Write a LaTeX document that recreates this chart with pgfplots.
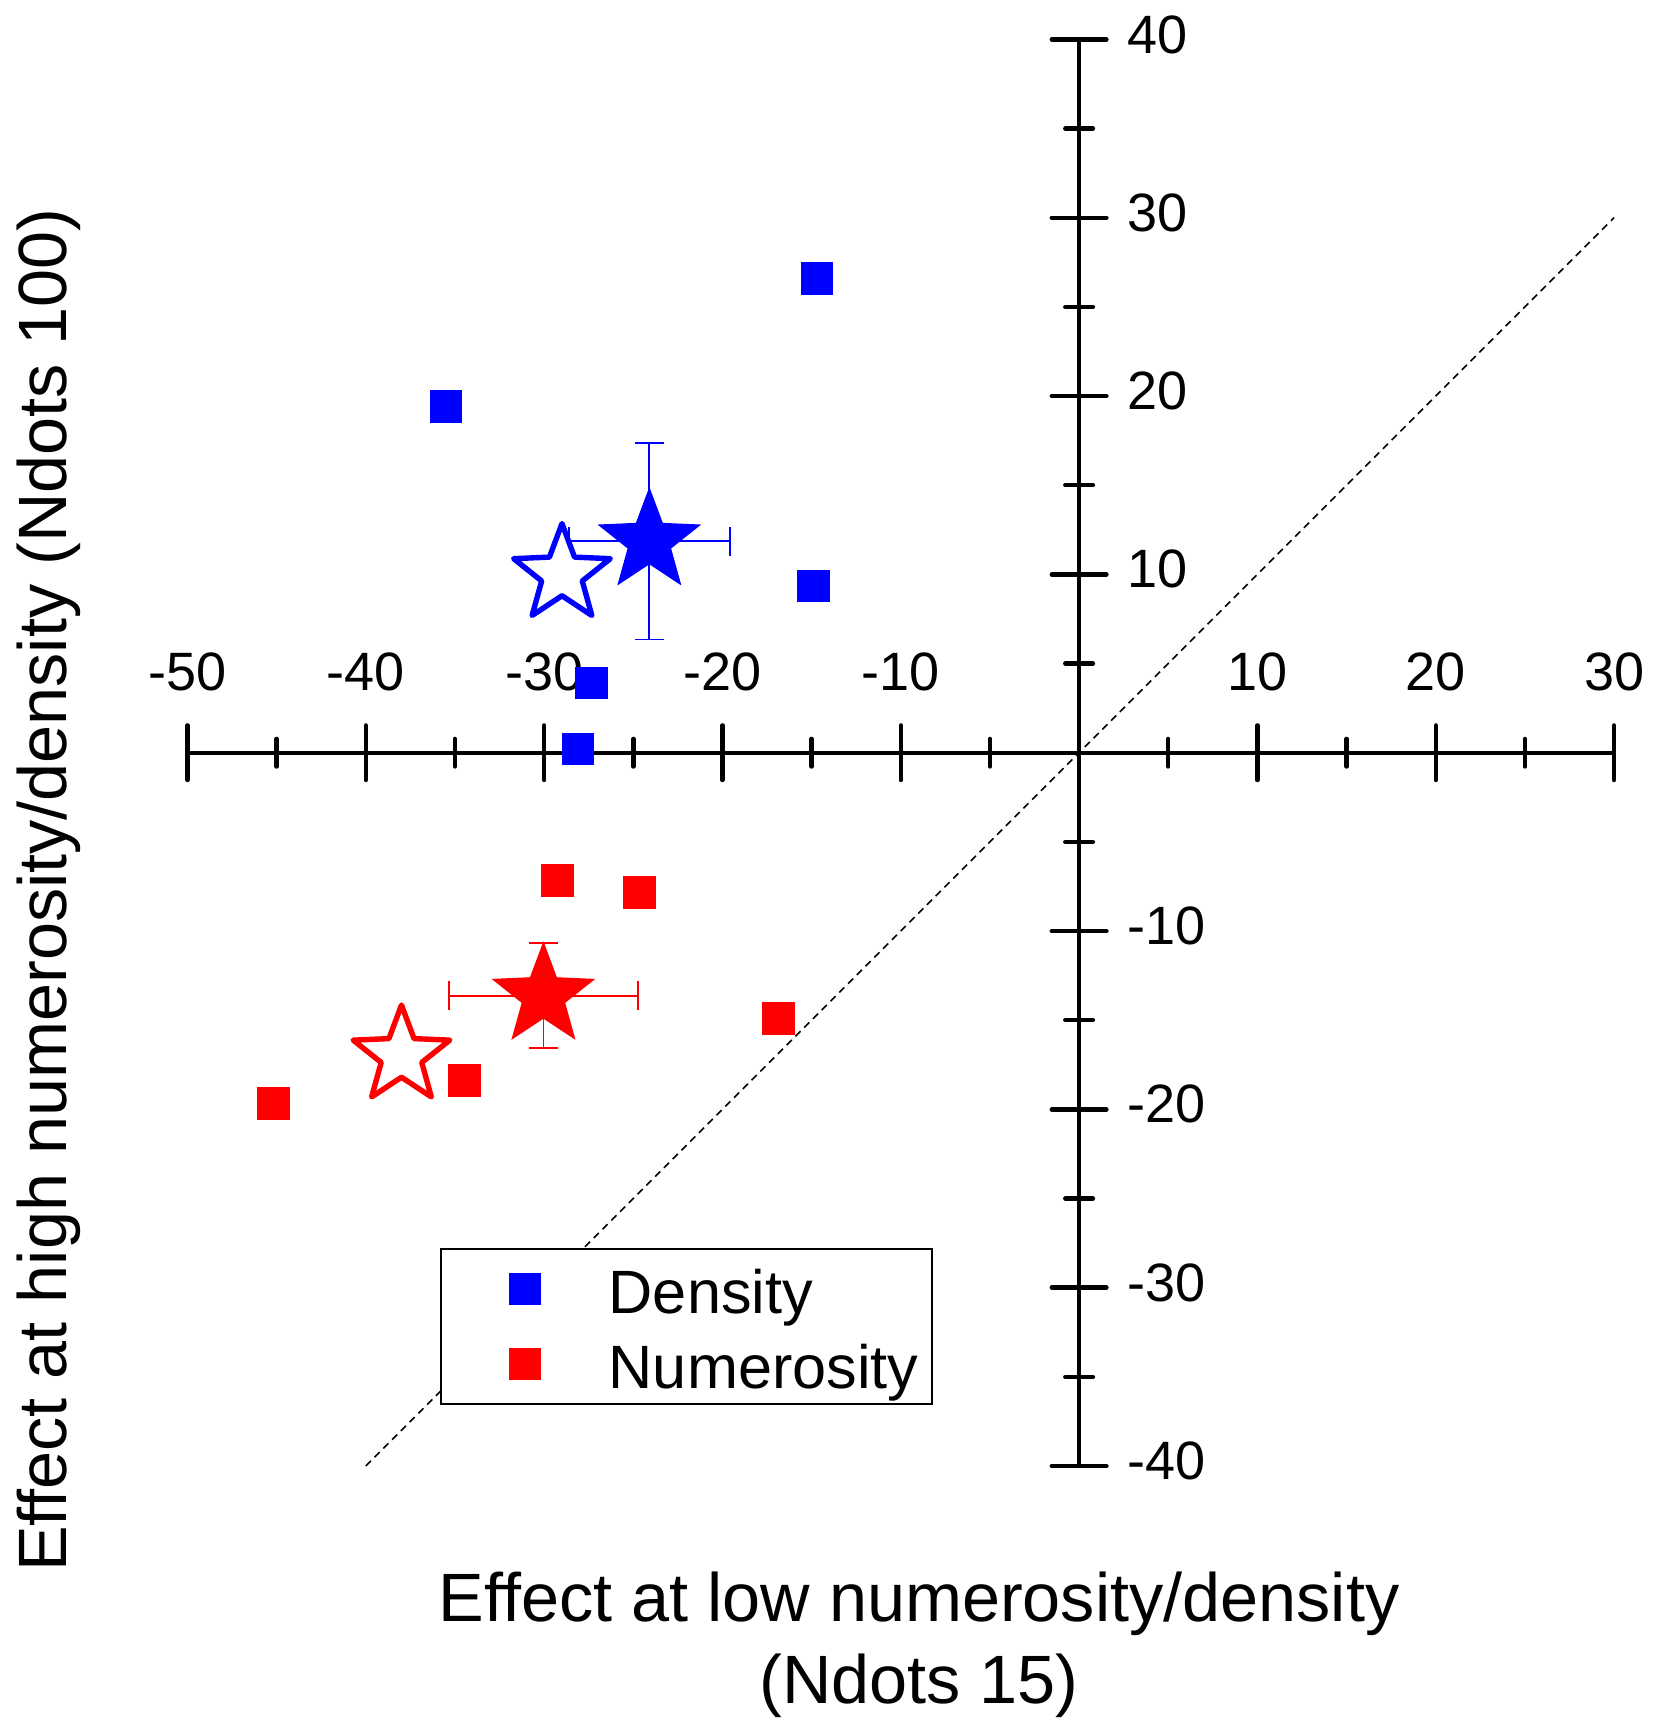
\documentclass[border=0pt]{standalone}
\usepackage{pgfplots}
\pgfplotsset{compat=1.18}
\usepackage{fontspec}
\setmainfont{Liberation Sans}
\definecolor{pblue}{RGB}{0,0,255}
\definecolor{pred}{RGB}{255,0,0}

\pgfdeclareplotmark{fstar}{%
 \pgfpathmoveto{\pgfpointpolar{90}{\pgfplotmarksize}}%
 \pgfpathlineto{\pgfpointpolar{126}{0.42*\pgfplotmarksize}}%
 \pgfpathlineto{\pgfpointpolar{162}{\pgfplotmarksize}}%
 \pgfpathlineto{\pgfpointpolar{198}{0.42*\pgfplotmarksize}}%
 \pgfpathlineto{\pgfpointpolar{234}{\pgfplotmarksize}}%
 \pgfpathlineto{\pgfpointpolar{270}{0.42*\pgfplotmarksize}}%
 \pgfpathlineto{\pgfpointpolar{306}{\pgfplotmarksize}}%
 \pgfpathlineto{\pgfpointpolar{342}{0.42*\pgfplotmarksize}}%
 \pgfpathlineto{\pgfpointpolar{18}{\pgfplotmarksize}}%
 \pgfpathlineto{\pgfpointpolar{54}{0.42*\pgfplotmarksize}}%
 \pgfpathclose
 \pgfusepathqfillstroke
}

\begin{document}
\begin{tikzpicture}
\begin{axis}[
  at={(0,0)}, anchor=south west,
  scale only axis, width=356.65pt, height=356.65pt,
  xmin=-50, xmax=30, ymin=-40, ymax=40,
  enlargelimits=false, clip=false,
  axis lines=middle,
  axis line style={-, line width=1.1pt, black},
  every inner x axis line/.append style={-},
  every inner y axis line/.append style={-},
  xtick={-50,-40,-30,-20,-10,10,20,30},
  xticklabels={-50,-40,-30,-20,-10,10,20,30},
  ytick={-40,-30,-20,-10,10,20,30,40},
  yticklabels={-40,-30,-20,-10,10,20,30,40},
  minor xtick={-45,-35,-25,-15,-5,5,15,25},
  minor ytick={-35,-25,-15,-5,5,15,25,35},
  tick align=center,
  major tick length=13.65pt,
  minor tick length=6.9pt,
  tick style={line width=1.1pt, black, line cap=round},
  ticklabel style={font=\fontsize{13.5}{15}\selectfont, inner sep=0pt},
  xticklabel style={anchor=base, yshift=22.3pt},
  yticklabel style={anchor=base west, xshift=18.8pt, yshift=-3.4pt},
  xlabel={Effect at low numerosity/density\\(Ndots 15)},
  ylabel={Effect at high numerosity/density (Ndots 100)},
  every axis x label/.style={at={(axis description cs:0.5128,0)}, yshift=-59.4pt, anchor=base, align=center, inner sep=0pt, font=\fontsize{17.1}{20.5}\selectfont},
  every axis y label/.style={at={(axis description cs:0,0.4038)}, xshift=-30.3pt, rotate=90, anchor=base, inner sep=0pt, font=\fontsize{17.1}{20.5}\selectfont},
  legend style={at={(axis description cs:0.177,0.153)}, anchor=north west,
    draw=black, line width=0.45pt, fill=white,
    inner xsep=3.5pt, inner ysep=1.975pt,
    nodes={inner sep=0pt, text height=14.2pt, text depth=2pt},
    column sep=17.1pt, row sep=2.55pt,
    font=\fontsize{15.3}{18}\selectfont},
  legend cell align=left,
  legend image code/.code={\path[draw=none,fill=none] (-17.5pt,0pt) -- (3.875pt,0pt); \draw[#1] plot coordinates {(0pt,0pt)};},
]
% diagonal reference line
\addplot[black, line width=0.4pt, dash pattern=on 1.8pt off 1.3pt, forget plot] coordinates {(-40,-40) (30,30)};

% individual subjects
\addplot[only marks, mark=square*, mark size=3.875pt, color=pblue, mark options={draw=none, fill=pblue}] coordinates {
 (-35.5,19.4) (-14.7,26.6) (-14.9,9.35) (-27.35,3.9) (-28.1,0.2)
};
\addlegendentry{Density}
\addplot[only marks, mark=square*, mark size=3.875pt, color=pred, mark options={draw=none, fill=pred}] coordinates {
 (-29.26,-7.16) (-24.66,-7.83) (-16.86,-14.9) (-34.47,-18.37) (-45.19,-19.66)
};
\addlegendentry{Numerosity}

% error bars of the means (drawn first, beneath the stars)
\addplot[only marks, mark=none, forget plot,
  error bars/.cd, x dir=both, x explicit, y dir=both, y explicit,
  error bar style={line width=0.45pt, draw=pblue},
  error mark options={rotate=90, mark size=3.6pt, line width=0.45pt, draw=pblue}]
  coordinates {(-24.1,11.85) +- (4.5,5.5)};
\addplot[only marks, mark=none, forget plot,
  error bars/.cd, x dir=both, x explicit, y dir=both, y explicit,
  error bar style={line width=0.45pt, draw=pred},
  error mark options={rotate=90, mark size=3.6pt, line width=0.45pt, draw=pred}]
  coordinates {(-30.04,-13.63) +- (5.31,2.95)};

% open stars
\addplot[only marks, mark=fstar, mark size=12.7pt, color=pblue, forget plot,
  mark options={fill=white, draw=pblue, line width=1.35pt, line join=round}] coordinates {(-29.0,10.0)};
\addplot[only marks, mark=fstar, mark size=12.7pt, color=pred, forget plot,
  mark options={fill=white, draw=pred, line width=1.35pt, line join=round}] coordinates {(-38.0,-17.0)};

% filled stars (means)
\addplot[only marks, mark=fstar, mark size=13.2pt, color=pblue, forget plot,
  mark options={fill=pblue, draw=pblue, line width=0.3pt}]
  coordinates {(-24.1,11.85)};
\addplot[only marks, mark=fstar, mark size=13.2pt, color=pred, forget plot,
  mark options={fill=pred, draw=pred, line width=0.3pt}]
  coordinates {(-30.04,-13.63)};
\end{axis}
\pgfresetboundingbox
\useasboundingbox (-46.875pt,-66.25pt) rectangle (366.625pt,366.5pt);
\end{tikzpicture}
\end{document}
